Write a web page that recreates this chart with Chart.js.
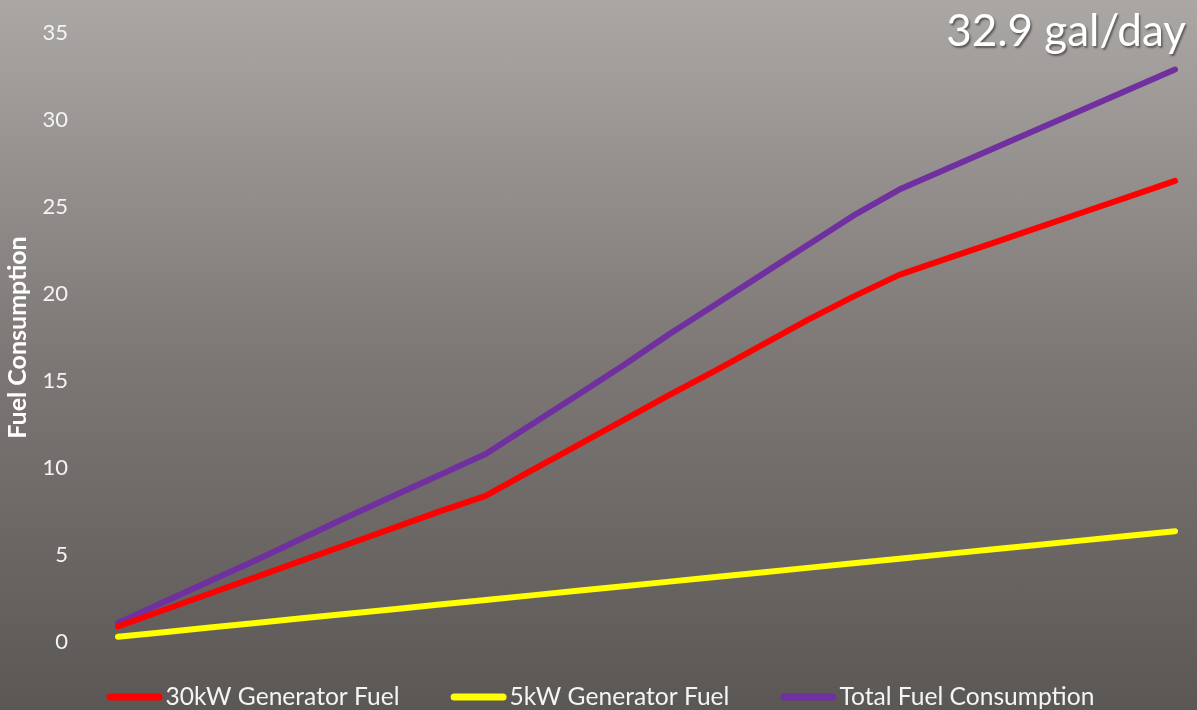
<!DOCTYPE html>
<html>
<head>
<meta charset="utf-8">
<script src="https://cdn.jsdelivr.net/npm/chart.js@4.4.1/dist/chart.umd.min.js"></script>
<style>
  html, body { margin: 0; padding: 0; }
  body { width: 1197px; height: 710px; overflow: hidden;
         background: linear-gradient(to bottom, #aba7a5 0%, #7d7876 50%, #5b5755 100%); }
  #wrap { position: relative; width: 1197px; height: 710px; }
</style>
</head>
<body>
<div id="wrap"><canvas id="c" width="1197" height="710"></canvas></div>
<script>
// Hours of the day (category axis, labels hidden in the reference)
const hours = ['0','1','2','3','4','5','6','7','8','9','10','11','12','13','14','15','16','17','18','19','20','21','22','23'];

// Cumulative fuel consumption (gal)
const gen30kW = [0.9, 1.84, 2.79, 3.73, 4.68, 5.62, 6.56, 7.51, 8.4, 9.86, 11.3, 12.75, 14.2, 15.6, 17.05, 18.5, 19.85, 21.1, 22.0, 22.9, 23.8, 24.7, 25.6, 26.5];
const gen5kW = [0.3, 0.56, 0.83, 1.09, 1.36, 1.62, 1.88, 2.15, 2.41, 2.68, 2.94, 3.2, 3.47, 3.73, 4.0, 4.26, 4.52, 4.79, 5.05, 5.32, 5.58, 5.84, 6.11, 6.37];
const totalFuel = [1.1, 2.3, 3.5, 4.7, 5.95, 7.2, 8.4, 9.6, 10.8, 12.5, 14.2, 15.9, 17.7, 19.4, 21.1, 22.8, 24.5, 26.0, 27.15, 28.3, 29.45, 30.6, 31.75, 32.9];

const seriesNames = ['30kW Generator Fuel', '5kW Generator Fuel', 'Total Fuel Consumption'];
const seriesColors = ['#ff0000', '#ffff00', '#7030a0'];
const yTicks = [0, 5, 10, 15, 20, 25, 30, 35];
const yAxisTitle = 'Fuel Consumption';
const headline = '32.9 gal/day';

const FONT = 'Lato, "Open Sans", "DejaVu Sans", sans-serif';
const TEXT_COLOR = '#f4f4f4';

const customLegend = {
  id: 'customLegend',
  afterDraw(chart) {
    const ctx = chart.ctx;
    ctx.save();
    ctx.font = '24.6px ' + FONT;
    const boxW = 56, gapBT = 3, gapItem = 51;
    const items = chart.data.datasets.map(d => ({
      label: d.label, color: d.borderColor, w: ctx.measureText(d.label).width
    }));
    const total = items.reduce((s, it) => s + boxW + gapBT + it.w, 0) + gapItem * (items.length - 1);
    let x = (chart.width - total) / 2 + 2;
    const y = 697;
    items.forEach(it => {
      ctx.strokeStyle = it.color;
      ctx.lineWidth = 7;
      ctx.lineCap = 'round';
      ctx.beginPath();
      ctx.moveTo(x + 3.5, y);
      ctx.lineTo(x + boxW - 3.5, y);
      ctx.stroke();
      ctx.fillStyle = TEXT_COLOR;
      ctx.textBaseline = 'middle';
      ctx.textAlign = 'left';
      ctx.fillText(it.label, x + boxW + gapBT, y);
      x += boxW + gapBT + it.w + gapItem;
    });
    // headline
    ctx.font = '44px ' + FONT;
    ctx.textAlign = 'right';
    ctx.textBaseline = 'alphabetic';
    ctx.shadowColor = 'rgba(0,0,0,0.45)';
    ctx.shadowOffsetX = 1.5;
    ctx.shadowOffsetY = 1.5;
    ctx.shadowBlur = 2;
    ctx.fillStyle = '#ffffff';
    ctx.fillText(headline, 1186, 46);
    ctx.restore();
  }
};

const mk = (i, data) => ({
  label: seriesNames[i],
  data: data,
  borderColor: seriesColors[i],
  backgroundColor: seriesColors[i],
  borderWidth: 6,
  borderCapStyle: 'round',
  borderJoinStyle: 'round',
  pointRadius: 0,
  tension: 0,
  fill: false
});

new Chart(document.getElementById('c'), {
  type: 'line',
  data: {
    labels: hours,
    datasets: [mk(0, gen30kW), mk(1, gen5kW), mk(2, totalFuel)]
  },
  options: {
    responsive: false,
    animation: false,
    events: [],
    layout: { padding: { left: 0, top: 33, right: 22, bottom: 68 } },
    plugins: { legend: { display: false }, title: { display: false }, tooltip: { enabled: false } },
    scales: {
      x: { display: false, offset: false },
      y: {
        min: 0, max: 35,
        afterBuildTicks(scale) { scale.ticks = yTicks.map(v => ({ value: v })); },
        afterFit(scale) { scale.width = 118; scale.paddingTop = 0; scale.paddingBottom = 0; },
        grid: { display: false, drawTicks: false },
        border: { display: false },
        ticks: { padding: 50, color: TEXT_COLOR, font: { family: FONT, size: 22 } },
        title: {
          display: true, text: yAxisTitle, color: '#ffffff',
          font: { family: FONT, size: 25, weight: 'bold' },
          padding: { top: 3, bottom: 0 }
        }
      }
    }
  },
  plugins: [customLegend]
});
</script>
</body>
</html>
